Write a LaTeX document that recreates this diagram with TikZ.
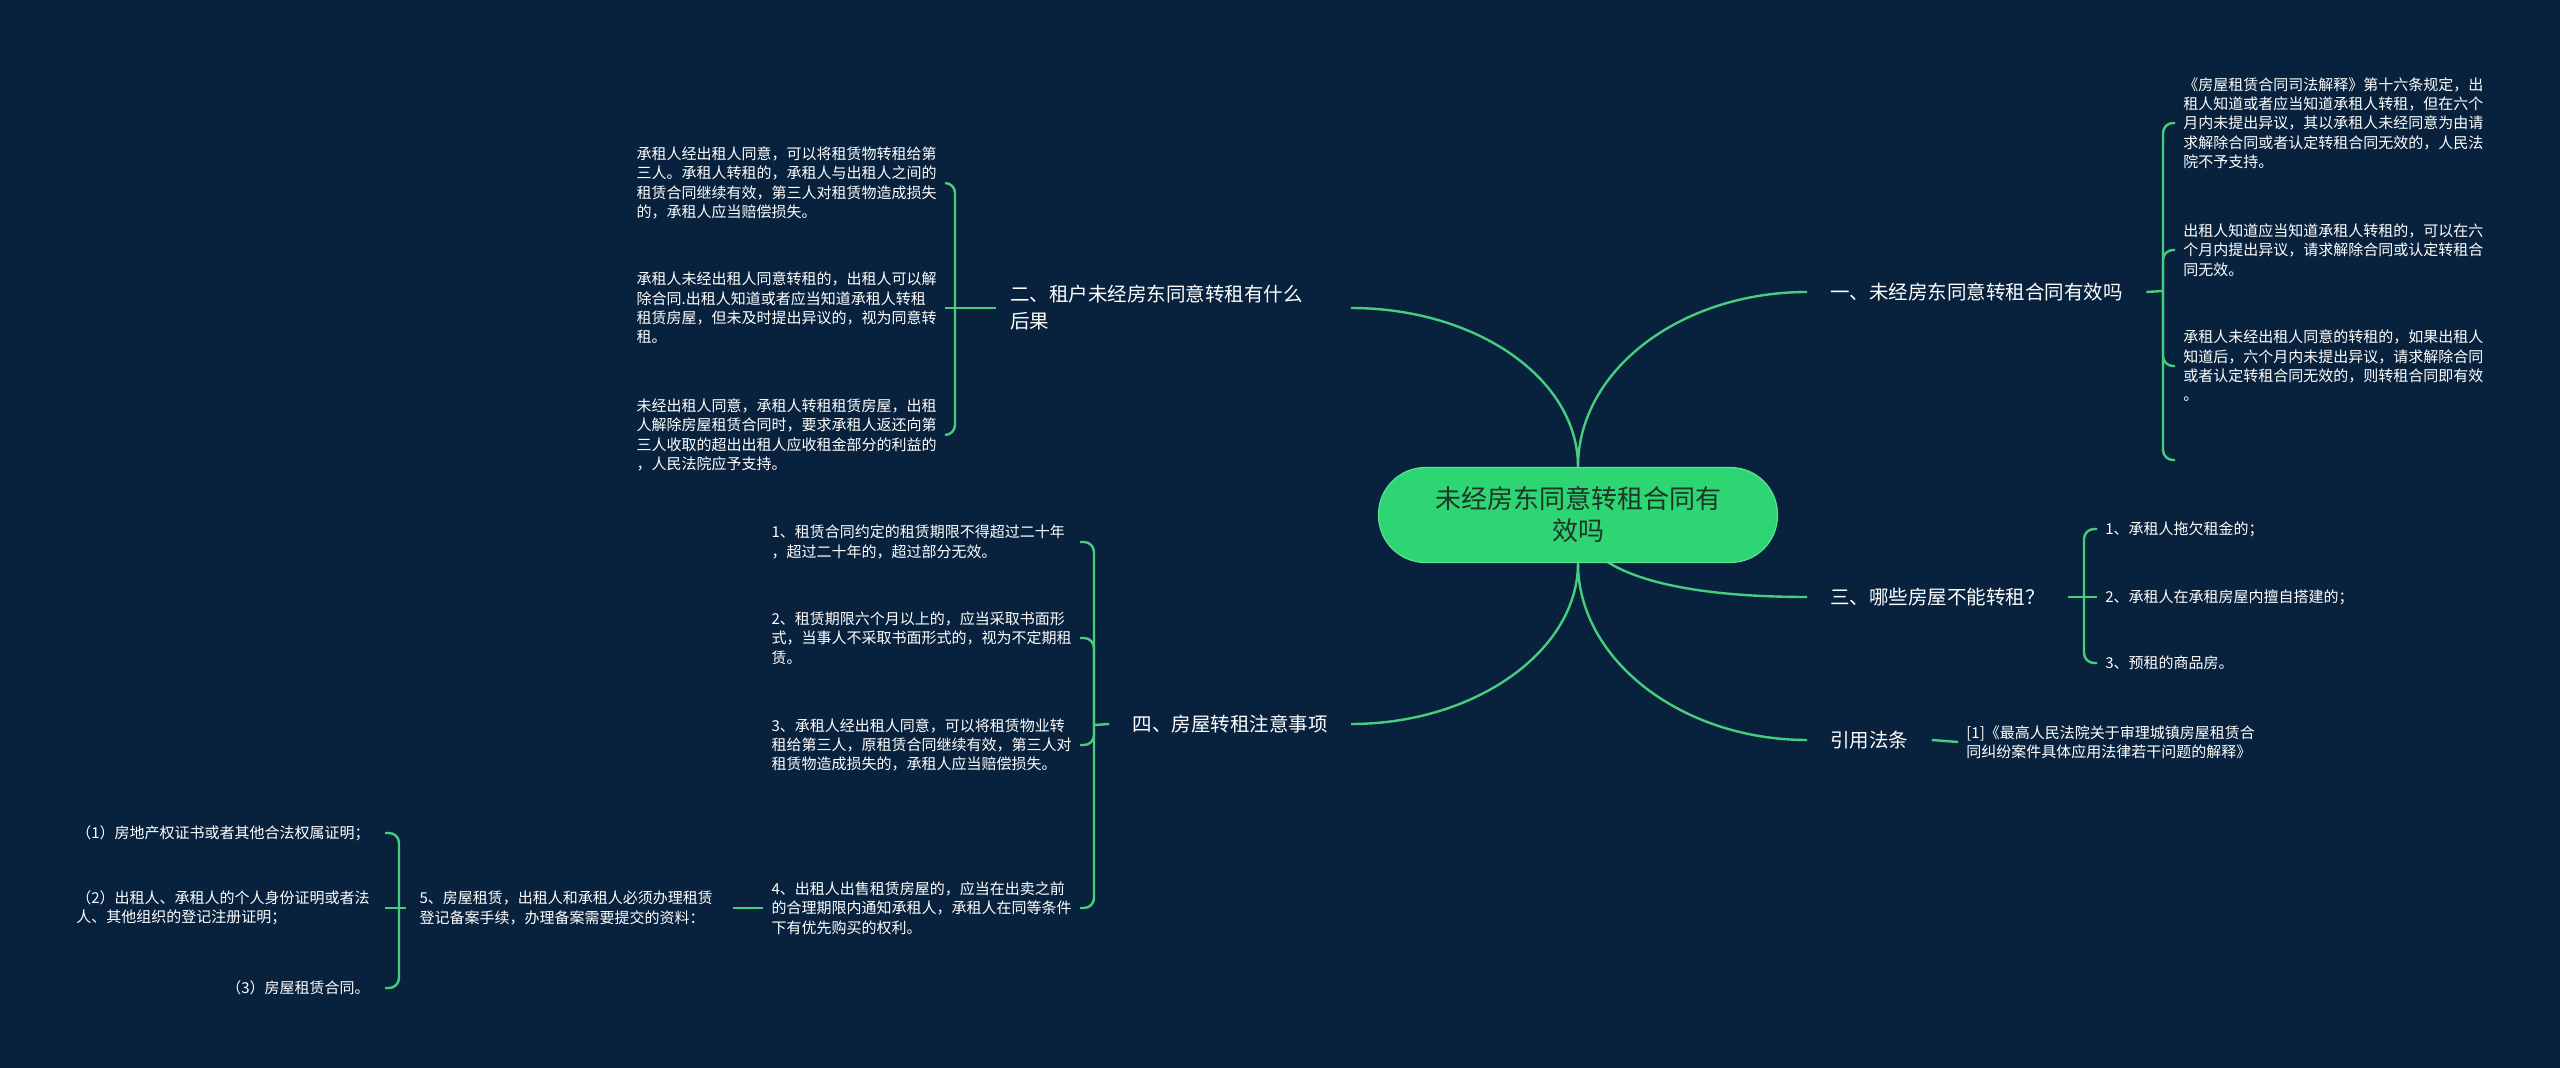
\documentclass[tikz,border=0pt]{standalone}
\usepackage{fontspec}
\setmainfont{Noto Sans CJK SC}
\definecolor{bgC}{RGB}{8,34,62}
\definecolor{lineC}{RGB}{70,205,125}
\definecolor{rootC}{RGB}{46,213,115}
\definecolor{rootB}{RGB}{90,225,145}
\definecolor{rootT}{RGB}{30,52,40}
\pgfdeclarelayer{bg}
\pgfdeclarelayer{edges}
\pgfsetlayers{bg,edges,main}
\begin{document}
\begin{tikzpicture}[x=0.5pt,y=-0.5pt,
  edge/.style={draw=lineC, line width=1.2pt},
  hook/.style={edge, rounded corners=5pt},
  leaf/.style={text=white, font=\fontsize{7.5pt}{9.65pt}\selectfont, align=left, inner xsep=4pt, inner ysep=0pt},
  leftleaf/.style={leaf, text width=150pt},
  branch/.style={text=white, font=\fontsize{9.75pt}{13.5pt}\selectfont, align=left, inner xsep=11.5pt, inner ysep=0pt},
  rootnode/.style={fill=rootC, draw=rootB, line width=0.6pt, rounded corners=23.5pt, minimum width=199.5pt, minimum height=47.5pt, text=rootT, font=\fontsize{13pt}{16pt}\selectfont, align=center, inner sep=0pt}
]
\useasboundingbox (0,0) rectangle (2560,1068);
\begin{pgfonlayer}{bg}
\fill[bgC] (0,0) rectangle (2560,1068);
\end{pgfonlayer}

% root
\node[rootnode] (root) at (1578,515) {未经房东同意转租合同有\\效吗};

% branches
\node[branch, anchor=west] (b1) at (1807,292) {一、未经房东同意转租合同有效吗};
\node[branch, anchor=west, inner xsep=7pt, text width=163pt] (b2) at (996,308) {二、租户未经房东同意转租有什么\\后果};
\node[branch, anchor=west] (b3) at (1807,597) {三、哪些房屋不能转租？};
\node[branch, anchor=west] (b5) at (1807,740) {引用法条};
\node[branch, anchor=east] (b4) at (1351,724) {四、房屋转租注意事项};

% junctions
\coordinate (J1) at (2163,291);
\coordinate (J2) at (955,308);
\coordinate (J3) at (2084,597);
\coordinate (J4) at (1094,725);
\coordinate (J5) at (399,908);

% children of b1
\node[leaf, anchor=west] (c11) at (2175,123) {《房屋租赁合同司法解释》第十六条规定，出\\租人知道或者应当知道承租人转租，但在六个\\月内未提出异议，其以承租人未经同意为由请\\求解除合同或者认定转租合同无效的，人民法\\院不予支持。};
\node[leaf, anchor=west] (c12) at (2175,250) {出租人知道应当知道承租人转租的，可以在六\\个月内提出异议，请求解除合同或认定转租合\\同无效。};
\node[leaf, anchor=west] (c13) at (2175,366) {承租人未经出租人同意的转租的，如果出租人\\知道后，六个月内未提出异议，请求解除合同\\或者认定转租合同无效的，则转租合同即有效\\。};
\coordinate (c14) at (2175,460);

% children of b2
\node[leftleaf, anchor=east] (c21) at (945,183) {承租人经出租人同意，可以将租赁物转租给第\\三人。承租人转租的，承租人与出租人之间的\\租赁合同继续有效，第三人对租赁物造成损失\\的，承租人应当赔偿损失。};
\node[leftleaf, anchor=east] (c22) at (945,308) {承租人未经出租人同意转租的，出租人可以解\\除合同.出租人知道或者应当知道承租人转租\\租赁房屋，但未及时提出异议的，视为同意转\\租。};
\node[leftleaf, anchor=east] (c23) at (945,435) {未经出租人同意，承租人转租租赁房屋，出租\\人解除房屋租赁合同时，要求承租人返还向第\\三人收取的超出出租人应收租金部分的利益的\\，人民法院应予支持。};

% children of b3
\node[leaf, anchor=west] (c31) at (2097,529) {1、承租人拖欠租金的；};
\node[leaf, anchor=west] (c32) at (2097,597) {2、承租人在承租房屋内擅自搭建的；};
\node[leaf, anchor=west] (c33) at (2097,663) {3、预租的商品房。};

% child of b5
\node[leaf, anchor=west] (c51) at (1958,742) {[1]《最高人民法院关于审理城镇房屋租赁合\\同纠纷案件具体应用法律若干问题的解释》};

% children of b4
\node[leftleaf, anchor=east] (c41) at (1080,542) {1、租赁合同约定的租赁期限不得超过二十年\\，超过二十年的，超过部分无效。};
\node[leftleaf, anchor=east] (c42) at (1080,638) {2、租赁期限六个月以上的，应当采取书面形\\式，当事人不采取书面形式的，视为不定期租\\赁。};
\node[leftleaf, anchor=east] (c43) at (1080,745) {3、承租人经出租人同意，可以将租赁物业转\\租给第三人，原租赁合同继续有效，第三人对\\租赁物造成损失的，承租人应当赔偿损失。};
\node[leftleaf, anchor=east] (c44) at (1080,908) {4、出租人出售租赁房屋的，应当在出卖之前\\的合理期限内通知承租人，承租人在同等条件\\下有优先购买的权利。};

% n5 and its children
\node[leftleaf, anchor=east, inner xsep=6.5pt] (n5) at (733,908) {5、房屋租赁，出租人和承租人必须办理租赁\\登记备案手续，办理备案需要提交的资料：};
\node[leaf, anchor=east, inner xsep=7.5pt] (n51) at (385,833) {（1）房地产权证书或者其他合法权属证明；};
\node[leaf, anchor=east, inner xsep=7.5pt] (n52) at (385,908) {（2）出租人、承租人的个人身份证明或者法\\人、其他组织的登记注册证明；};
\node[leaf, anchor=east, inner xsep=7.5pt] (n53) at (385,988) {（3）房屋租赁合同。};

\begin{pgfonlayer}{edges}
% root connectors
\draw[edge] (root.north) .. controls +(0,-97) and +(-126,0) .. (b1.west);
\draw[edge] (root.north) .. controls +(0,-88) and +(126,0) .. (b2.east);
\draw[edge] (root.center) .. controls +(0,60) and +(-127,0) .. (b3.west);
\draw[edge] (root.south) .. controls +(0,97) and +(-125,0) .. (b5.west);
\draw[edge] (root.south) .. controls +(0,87) and +(125,0) .. (b4.east);

% b1 bracket
\draw[edge] (b1.east) -- (J1);
\draw[hook] (J1) |- (c11.west);
\draw[hook] (J1) |- (c12.west);
\draw[hook] (J1) |- (c13.west);
\draw[hook] (J1) |- (c14);

% b2 bracket
\draw[edge] (b2.west) -- (J2);
\draw[hook] (J2) |- (c21.east);
\draw[hook] (J2) -- (c22.east);
\draw[hook] (J2) |- (c23.east);

% b3 bracket
\draw[edge] (b3.east) -- (J3);
\draw[hook] (J3) |- (c31.west);
\draw[hook] (J3) -- (c32.west);
\draw[hook] (J3) |- (c33.west);

% b5
\draw[edge] (b5.east) -- (c51.west);

% b4 bracket
\draw[edge] (b4.west) -- (J4);
\draw[hook] (J4) |- (c41.east);
\draw[hook] (J4) |- (c42.east);
\draw[hook] (J4) |- (c43.east);
\draw[hook] (J4) |- (c44.east);

% c44 -> n5
\draw[edge] (c44.west) -- (n5.east);

% n5 bracket
\draw[edge] (n5.west) -- (J5);
\draw[hook] (J5) |- (n51.east);
\draw[hook] (J5) -- (n52.east);
\draw[hook] (J5) |- (n53.east);
\end{pgfonlayer}
\end{tikzpicture}
\end{document}
